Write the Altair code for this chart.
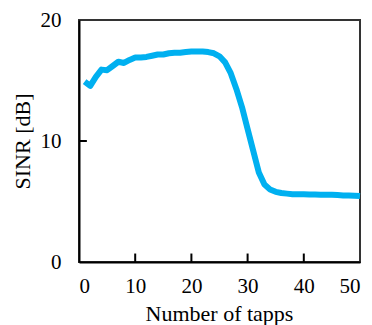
import altair as alt
import pandas as pd

taps = list(range(1, 51))
sinr = [14.9, 14.55, 15.3, 15.9, 15.85, 16.2, 16.55, 16.45, 16.7, 16.9,
        16.9, 16.95, 17.05, 17.15, 17.15, 17.25, 17.3, 17.3, 17.35, 17.4,
        17.4, 17.4, 17.35, 17.25, 17.0, 16.5, 15.6, 14.3, 12.8, 11.0,
        9.2, 7.4, 6.4, 6.0, 5.8, 5.7, 5.65, 5.6, 5.6, 5.6,
        5.58, 5.57, 5.56, 5.55, 5.55, 5.53, 5.5, 5.5, 5.48, 5.45]

x_ticks = [10, 20, 30, 40]
y_ticks = [10]

df = pd.DataFrame({"taps": taps, "sinr": sinr})
xt = pd.DataFrame({"taps": x_ticks, "sinr": [0.0] * len(x_ticks), "top": [0.7] * len(x_ticks)})
yt = pd.DataFrame({"sinr": y_ticks, "taps": [0.0] * len(y_ticks), "right": [1.4] * len(y_ticks)})

FONT = "Liberation Serif"

xscale = alt.Scale(domain=[0, 50], nice=False, zero=False)
yscale = alt.Scale(domain=[0, 20], nice=False, zero=False)

line = alt.Chart(df).mark_line(color="#00B0F0", strokeWidth=6, strokeJoin="round", strokeCap="butt").encode(
    x=alt.X("taps:Q", scale=xscale,
            axis=alt.Axis(title="Number of tapps", values=[0, 10, 20, 30, 40, 50], ticks=False,
                          grid=False, domainColor="black", domainWidth=2, labelPadding=13,
                          titleX=140, titleY=58, titleBaseline="alphabetic", titleAlign="center")),
    y=alt.Y("sinr:Q", scale=yscale,
            axis=alt.Axis(title="SINR [dB]", values=[0, 10, 20], ticks=False,
                          grid=False, domainColor="black", domainWidth=2, labelPadding=18,
                          titleX=-57, titleY=121, titleAngle=270, titleBaseline="middle", titleAlign="center")),
)

xtick = alt.Chart(xt).mark_rule(color="black", strokeWidth=2).encode(
    x=alt.X("taps:Q"), y=alt.Y("sinr:Q"), y2=alt.Y2("top:Q"))
ytick = alt.Chart(yt).mark_rule(color="black", strokeWidth=2).encode(
    y=alt.Y("sinr:Q"), x=alt.X("taps:Q"), x2=alt.X2("right:Q"))

chart = alt.layer(line, xtick, ytick).properties(
    width=281, height=242,
    autosize=alt.AutoSizeParams(type="none"),
    padding={"left": 71, "top": 12, "right": 4, "bottom": 63},
    background="white",
).configure_view(stroke="#333", strokeWidth=2).configure_axis(
    labelFont=FONT, labelFontSize=21, labelColor="black",
    titleFont=FONT, titleFontSize=22, titleFontWeight="normal", titleColor="black",
)

chart.save("out.html", embed_options={"renderer": "svg", "actions": False})
